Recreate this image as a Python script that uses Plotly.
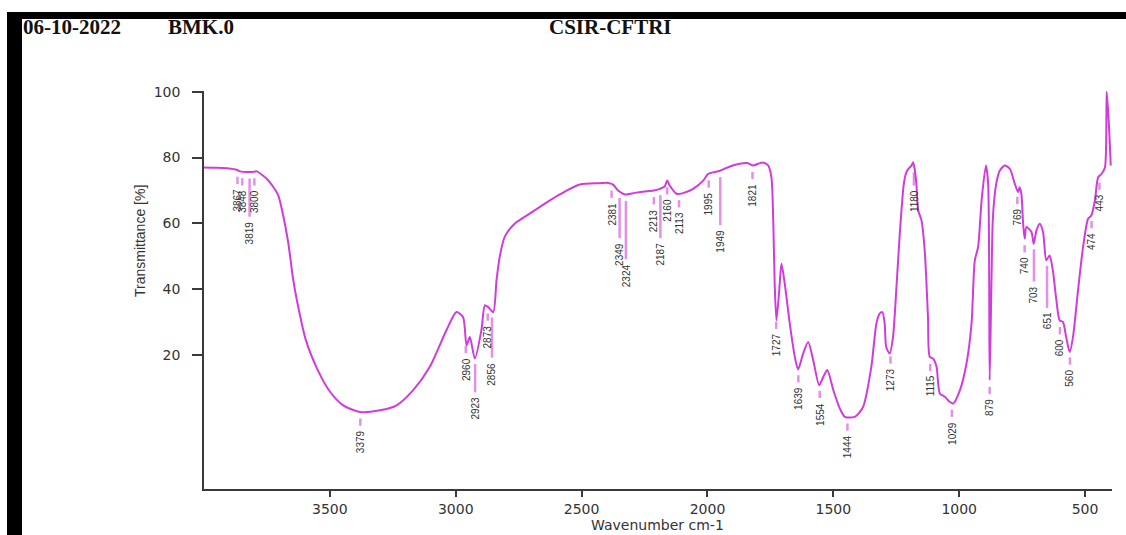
import numpy as np
import plotly.graph_objects as go

# ---- spectrum (wavenumber cm-1, transmittance %) ----
wavenumber = [4000, 3950, 3900, 3870, 3857, 3830, 3800, 3791, 3770, 3750, 3726, 3705,
              3687, 3665, 3647, 3631, 3595, 3548, 3500, 3447, 3381, 3301, 3235, 3169,
              3103, 3037, 2997, 2971, 2957, 2944, 2924, 2898, 2884, 2871, 2851, 2838,
              2825, 2805, 2765, 2706, 2646, 2587, 2507, 2428, 2395, 2375, 2355, 2328,
              2295, 2242, 2213, 2189, 2170, 2160, 2150, 2123, 2097, 2057, 2017, 1998,
              1978, 1951, 1920, 1872, 1839, 1819, 1792, 1779, 1759, 1746, 1739, 1733,
              1726, 1715, 1706, 1693, 1673, 1653, 1640, 1620, 1600, 1580, 1556, 1540,
              1524, 1500, 1474, 1454, 1415, 1382, 1349, 1329, 1316, 1305, 1296, 1290,
              1276, 1263, 1250, 1236, 1220, 1210, 1197, 1190, 1183, 1176, 1170, 1163,
              1150, 1137, 1124, 1117, 1104, 1090, 1077, 1057, 1037, 1024, 997, 971,
              951, 938, 925, 911, 894, 885, 879, 872, 866, 853, 839, 819, 799, 779,
              766, 760, 753, 746, 740, 733, 713, 704, 693, 680, 667, 654, 641, 628,
              614, 601, 588, 575, 561, 548, 528, 508, 488, 475, 461, 448, 435, 421,
              414, 406, 398]
transmittance = [77.0, 76.9, 76.7, 76.3, 75.8, 75.6, 75.7, 75.8, 74.8, 73.5, 71.2, 68.5,
                 63.0, 54.0, 43.6, 36.7, 24.5, 15.5, 9.0, 4.8, 2.8, 3.3, 4.8, 9.4,
                 16.5, 27.6, 33.1, 31.6, 23.0, 25.5, 19.0, 27.6, 35.2, 34.6, 33.1, 42.7,
                 50.0, 56.0, 60.0, 63.0, 66.0, 68.8, 71.8, 72.2, 72.3, 71.8, 70.0, 68.8,
                 69.2, 69.8, 70.0, 70.5, 71.2, 73.0, 71.5, 69.0, 69.2, 70.5, 73.0, 75.0,
                 75.5, 76.0, 77.0, 78.1, 78.3, 77.6, 78.3, 78.5, 77.6, 74.0, 61.9, 41.7,
                 30.6, 39.7, 47.8, 41.7, 29.6, 19.5, 15.7, 20.5, 24.0, 18.5, 10.9, 13.4,
                 15.5, 9.4, 3.8, 1.3, 1.3, 4.3, 16.5, 29.6, 32.6, 33.1, 29.6, 22.5,
                 20.5, 25.5, 39.7, 56.9, 72.0, 75.5, 77.0, 77.5, 78.6, 76.0, 72.0, 64.0,
                 61.0, 51.8, 31.6, 19.5, 19.0, 16.5, 8.4, 7.4, 5.8, 5.3, 9.4, 17.5,
                 29.6, 48.8, 52.8, 67.0, 77.6, 72.0, 12.4, 41.7, 61.9, 72.0, 76.0, 77.6, 76.6, 72.0,
                 69.5, 71.0, 69.0, 59.9, 55.4, 58.9, 57.4, 53.8, 57.9, 59.9, 57.4, 48.8, 50.3, 45.8,
                 36.7, 30.6, 30.1, 25.5, 21.0, 25.5, 39.7, 52.8, 61.4, 62.4, 67.0, 74.0, 75.0, 77.0,
                 100.0, 91.0, 77.6]

# ---- peak labels ----
peak_labels = [3867, 3848, 3819, 3800, 3379, 2960, 2923, 2873, 2856, 2381, 2349, 2324,
               2213, 2187, 2160, 2113, 1995, 1949, 1821, 1727, 1639, 1554, 1444, 1273,
               1180, 1115, 1029, 879, 769, 740, 703, 651, 600, 560, 474, 443]
# extra marker-line length (in % units) for labels pushed further down
label_drop = {3819: 9.4, 2923: 6.4, 2856: 10.0, 2349: 10.0, 2324: 15.5, 2187: 10.8,
              1949: 12.4, 703: 7.6, 651: 10.6, 1180: 1.8}

x_ticks = [3500, 3000, 2500, 2000, 1500, 1000, 500]
y_ticks = [20, 40, 60, 80, 100]

CURVE = "#d03cdc"
MARK = "#e390e6"
TXT = "#333333"

W, H = 1126, 535
L, R, T, B = 204, 1112, 91, 489


def px(xp):
    return (xp - L) / (R - L)


def py(yp):
    return (B - yp) / (B - T)


fig = go.Figure()

# peak marker lines
wn_sorted = np.array(wavenumber[::-1], dtype=float)
tr_sorted = np.array(transmittance[::-1], dtype=float)
lx, ly = [], []
annotations = []
for p in peak_labels:
    tc = float(np.interp(p, wn_sorted, tr_sorted))
    top = tc - 2.0
    bot = top - 2.2 - label_drop.get(p, 0.0)
    lx += [p, p, None]
    ly += [top, bot, None]
    annotations.append(dict(x=p, y=bot - 1.1, xref="x", yref="y", text=str(p),
                            textangle=-90, showarrow=False, xanchor="center",
                            yanchor="top", borderpad=0,
                            font=dict(family="Liberation Sans", size=10, color=TXT)))

fig.add_trace(go.Scatter(x=lx, y=ly, mode="lines", line=dict(color=MARK, width=2.5),
                         hoverinfo="skip"))
fig.add_trace(go.Scatter(x=wavenumber, y=transmittance, mode="lines",
                         line=dict(color=CURVE, width=2, shape="spline", smoothing=0.7),
                         hoverinfo="skip"))

# axis titles
annotations.append(dict(x=px(657), y=py(525), xref="paper", yref="paper",
                        text="Wavenumber cm-1", showarrow=False, xanchor="center",
                        yanchor="middle",
                        font=dict(family="DejaVu Sans", size=14, color=TXT)))
annotations.append(dict(x=px(140), y=py(241), xref="paper", yref="paper",
                        text="Transmittance [%]", showarrow=False, textangle=-90,
                        xanchor="center", yanchor="middle",
                        font=dict(family="Liberation Sans", size=14, color=TXT)))
# header
hdr = dict(family="Liberation Serif", size=21, color="#111111", weight="bold")
for txt, xl in [("06-10-2022", 21), ("BMK.0", 166), ("CSIR-CFTRI", 547)]:
    annotations.append(dict(x=px(xl), y=py(27), xref="paper", yref="paper", text=txt,
                            showarrow=False, xanchor="left", yanchor="middle",
                            font=hdr))

shapes = [
    dict(type="rect", xref="paper", yref="paper", x0=px(8), x1=px(1130), y0=py(12),
         y1=py(19), fillcolor="black", line=dict(width=0), layer="above"),
    dict(type="rect", xref="paper", yref="paper", x0=px(7), x1=px(22), y0=py(12),
         y1=py(540), fillcolor="black", line=dict(width=0), layer="above"),
]

axis_common = dict(showline=True, linecolor="#3a3a3a", linewidth=1.5, ticks="outside",
                   tickcolor="#3a3a3a", tickwidth=1.5, showgrid=False, zeroline=False,
                   tickfont=dict(family="DejaVu Sans", size=14, color=TXT))

fig.update_layout(
    width=W, height=H,
    margin=dict(l=L, r=W - R, t=T, b=H - B, pad=0),
    paper_bgcolor="white", plot_bgcolor="white",
    showlegend=False,
    xaxis=dict(range=[4000, 393], tickvals=x_ticks, ticklen=6, ticklabelstandoff=0,
               **axis_common),
    yaxis=dict(range=[-20.6, 100.2], tickvals=y_ticks, ticklen=10, ticklabelstandoff=9,
               **axis_common),
    annotations=annotations,
    shapes=shapes,
)

fig.write_html("out.html", config={"displayModeBar": False},
               post_script="document.body.style.margin='0';document.body.style.overflow='hidden';")
